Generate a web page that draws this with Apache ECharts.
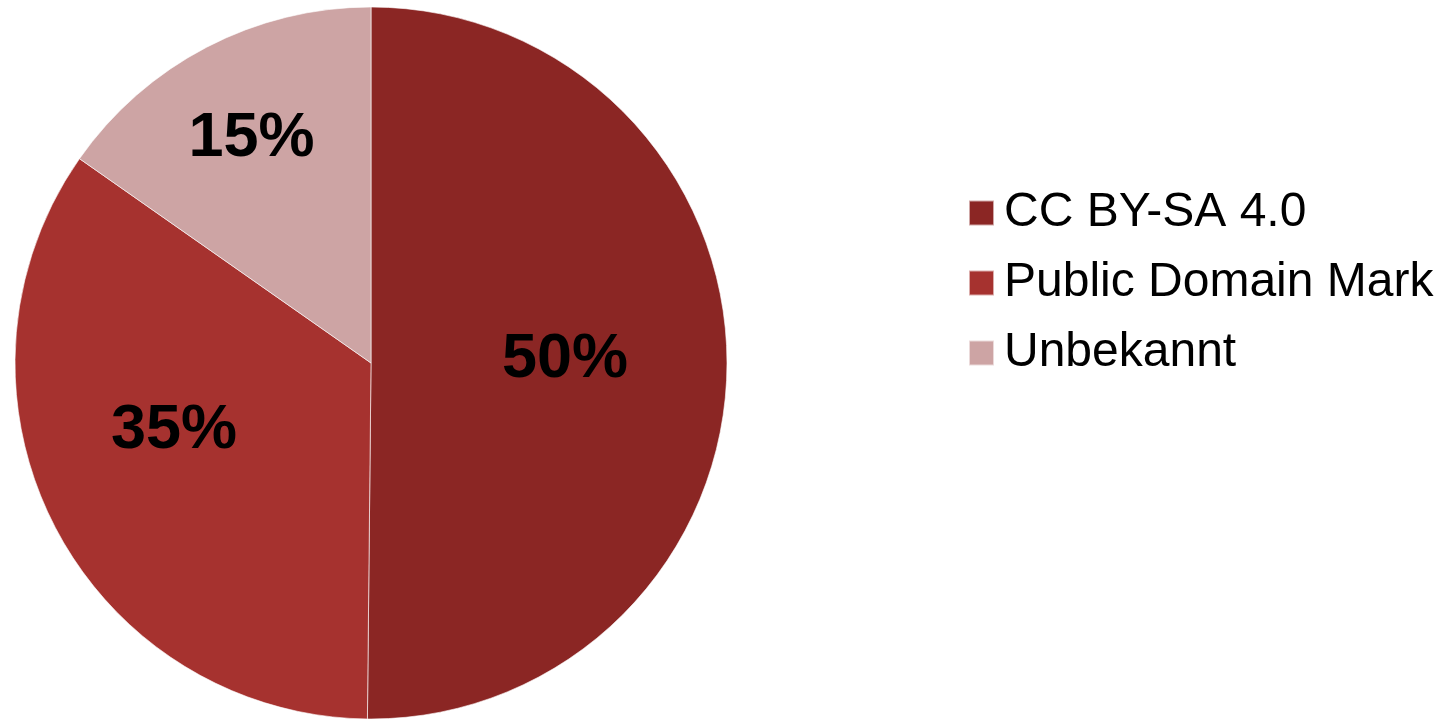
<!DOCTYPE html>
<html>
<head>
<meta charset="utf-8">
<script src="https://cdn.jsdelivr.net/npm/echarts@6/dist/echarts.min.js"></script>
<style>
html,body{margin:0;padding:0;background:#fff;}
#chart{width:1455px;height:721px;}
</style>
</head>
<body>
<div id="chart"></div>
<script>
const categories = ['CC BY-SA 4.0', 'Public Domain Mark', 'Unbekannt'];
const values = [50.16, 34.57, 15.27];
const labels = ['50%', '35%', '15%'];
const colors = ['#8B2624', '#A6322F', '#CDA4A4'];
const labelShift = [[13, -4], [-36, -15], [-36, -64]];

const chart = echarts.init(document.getElementById('chart'), null, {renderer: 'canvas'});
chart.setOption({
  animation: false,
  backgroundColor: '#ffffff',
  legend: {
    orient: 'vertical',
    left: 968,
    top: 189,
    padding: 0,
    icon: 'rect',
    itemWidth: 25,
    itemHeight: 25,
    itemGap: 22,
    selectedMode: false,
    data: categories,
    textStyle: {
      fontFamily: 'Liberation Sans, Arial, sans-serif',
      fontSize: 48,
      lineHeight: 48,
      color: '#000',
      padding: [0, 0, 0, 5]
    }
  },
  series: [{
    type: 'pie',
    center: [371, 363],
    radius: [0, 356],
    startAngle: 90,
    clockwise: true,
    avoidLabelOverlap: false,
    itemStyle: {borderColor: 'rgba(255,255,255,0.6)', borderWidth: 1},
    emphasis: {disabled: true},
    label: {
      show: true,
      position: 'inside',
      fontFamily: 'Liberation Sans, Arial, sans-serif',
      fontWeight: 'bold',
      fontSize: 63,
      color: '#000'
    },
    labelLine: {show: false},
    labelLayout: function (params) {
      const s = labelShift[params.dataIndex];
      return {dx: s[0], dy: s[1]};
    },
    data: categories.map((c, i) => ({
      name: c,
      value: values[i],
      itemStyle: {color: colors[i]},
      label: {formatter: labels[i]}
    }))
  }]
});
</script>
</body>
</html>
